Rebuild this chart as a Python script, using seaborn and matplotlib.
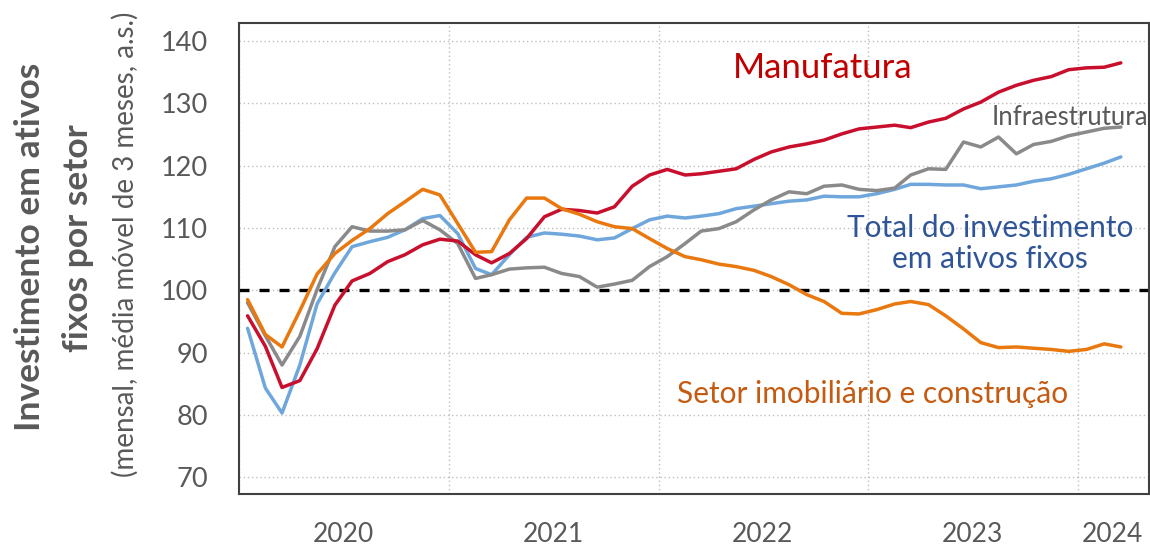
import numpy as np
import pandas as pd
import seaborn as sns
import matplotlib.pyplot as plt
import matplotlib.dates as mdates

# monthly values, Jan 2020 .. Mar 2024
manufatura = [95.9, 91.0, 84.4, 85.5, 90.6, 97.6, 101.5, 102.7, 104.6, 105.7, 107.3, 108.2,
              107.9, 105.7, 104.4, 105.9, 108.3, 111.8, 113.0, 112.8, 112.4, 113.4, 116.7, 118.5,
              119.4, 118.5, 118.7, 119.1, 119.5, 121.0, 122.2, 123.0, 123.5, 124.1, 125.1, 125.9,
              126.2, 126.5, 126.1, 127.0, 127.6, 129.1, 130.2, 131.8, 132.9, 133.7, 134.3, 135.4,
              135.7, 135.8, 136.5]
total = [93.9, 84.3, 80.3, 88.0, 97.8, 102.8, 107.0, 107.8, 108.5, 109.7, 111.5, 112.0,
         109.1, 103.5, 102.5, 105.7, 108.5, 109.2, 109.0, 108.7, 108.1, 108.4, 109.9, 111.3,
         111.9, 111.6, 111.9, 112.3, 113.1, 113.5, 113.9, 114.3, 114.5, 115.1, 115.0, 115.0,
         115.5, 116.2, 117.0, 117.0, 116.9, 116.9, 116.3, 116.6, 116.9, 117.5, 117.9, 118.6,
         119.5, 120.4, 121.4]
infra = [98.0, 92.7, 88.0, 92.6, 100.1, 107.0, 110.2, 109.5, 109.5, 109.7, 111.2, 109.7,
         107.5, 101.9, 102.5, 103.4, 103.6, 103.7, 102.7, 102.2, 100.5, 101.0, 101.6, 103.8,
         105.4, 107.5, 109.5, 109.9, 111.0, 112.9, 114.5, 115.8, 115.5, 116.7, 116.9, 116.2,
         116.0, 116.4, 118.5, 119.5, 119.4, 123.8, 123.0, 124.6, 121.9, 123.4, 123.9, 124.8,
         125.4, 126.0, 126.2]
imobiliario = [98.5, 92.9, 90.9, 96.7, 102.6, 105.9, 108.0, 109.9, 112.3, 114.2, 116.2, 115.3,
               110.7, 106.1, 106.2, 111.3, 114.8, 114.8, 113.1, 112.2, 111.0, 110.2, 109.9, 108.3,
               106.7, 105.4, 104.9, 104.2, 103.8, 103.2, 102.2, 100.9, 99.3, 98.2, 96.3, 96.2,
               96.9, 97.8, 98.2, 97.7, 95.9, 93.8, 91.6, 90.8, 90.9, 90.7, 90.5, 90.2,
               90.5, 91.4, 90.9]

meses = pd.date_range("2020-01-01", periods=51, freq="MS") + pd.Timedelta(days=15)
anos = ["2020", "2021", "2022", "2023", "2024"]
ano_label_pos = pd.to_datetime(["2020-07-01", "2021-07-01", "2022-07-01", "2023-07-01", "2024-03-02"])

# blue first so it sits underneath
df = pd.DataFrame({
    "mes": np.tile(meses, 4),
    "valor": total + infra + manufatura + imobiliario,
    "serie": ["total"] * 51 + ["infra"] * 51 + ["manufatura"] * 51 + ["imobiliario"] * 51,
})
cores = {"manufatura": "#C8102E", "total": "#6FA7DC", "infra": "#8A8A8A", "imobiliario": "#E9780F"}

sns.set_style("white")
plt.rcParams["font.family"] = ["Lato", "DejaVu Sans"]
fig = plt.figure(figsize=(11.5, 5.5), dpi=100)
ax = fig.add_axes([0.2078, 0.1018, 0.7913, 0.8564])

ax.axhline(100, color="black", lw=2.4, ls=(0, (3, 3)), zorder=1)
sns.lineplot(data=df, x="mes", y="valor", hue="serie", palette=cores, lw=2.5,
             legend=False, ax=ax, zorder=3)

ax.set_ylim(67.3, 142.9)
ax.set_xlim(pd.Timestamp("2020-01-01"), pd.Timestamp("2024-05-04"))
ax.set_yticks([70, 80, 90, 100, 110, 120, 130, 140])
ax.xaxis.set_major_locator(mdates.YearLocator())
ax.xaxis.set_major_formatter(plt.NullFormatter())
ax.set_xticks(ano_label_pos, minor=True)
ax.set_xticklabels(anos, minor=True)
ax.tick_params(axis="x", which="minor", length=0, pad=20, labelsize=19, labelcolor="#595959")
ax.tick_params(axis="x", which="major", length=6.5, width=1.5, color="#404040")
ax.tick_params(axis="y", length=6, width=1.5, color="#404040", labelsize=19.5,
               labelcolor="#595959", pad=16.5)
ax.grid(True, which="major", color="#BFBFBF", ls=(0, (1, 2)), lw=1)
for s in ax.spines.values():
    s.set_color("#404040")
    s.set_linewidth(1.5)
ax.set_xlabel("")
ax.set_ylabel("")

fig.text(0.026, 0.551, "Investimento em ativos", rotation=90, ha="center", va="center",
         fontsize=25.5, fontweight="bold", color="#595959")
fig.text(0.068, 0.567, "fixos por setor", rotation=90, ha="center", va="center",
         fontsize=25.5, fontweight="bold", color="#595959")
fig.text(0.109, 0.555, "(mensal, média móvel de 3 meses, a.s.)", rotation=90, ha="center",
         va="center", fontsize=20, color="#595959")

ax.text(0.641, 0.904, "Manufatura", transform=ax.transAxes, ha="center", va="center",
        fontsize=25, color="#C00000")
ax.text(0.999, 0.80, "Infraestrutura", transform=ax.transAxes, ha="right", va="center",
        fontsize=18.5, color="#595959")
ax.text(0.825, 0.532, "Total do investimento\nem ativos fixos", transform=ax.transAxes,
        ha="center", va="center", fontsize=21.5, color="#2F5597", linespacing=1.15)
ax.text(0.696, 0.212, "Setor imobiliário e construção", transform=ax.transAxes,
        ha="center", va="center", fontsize=21.5, color="#C55A11")

fig.savefig("out.png", dpi=100)
